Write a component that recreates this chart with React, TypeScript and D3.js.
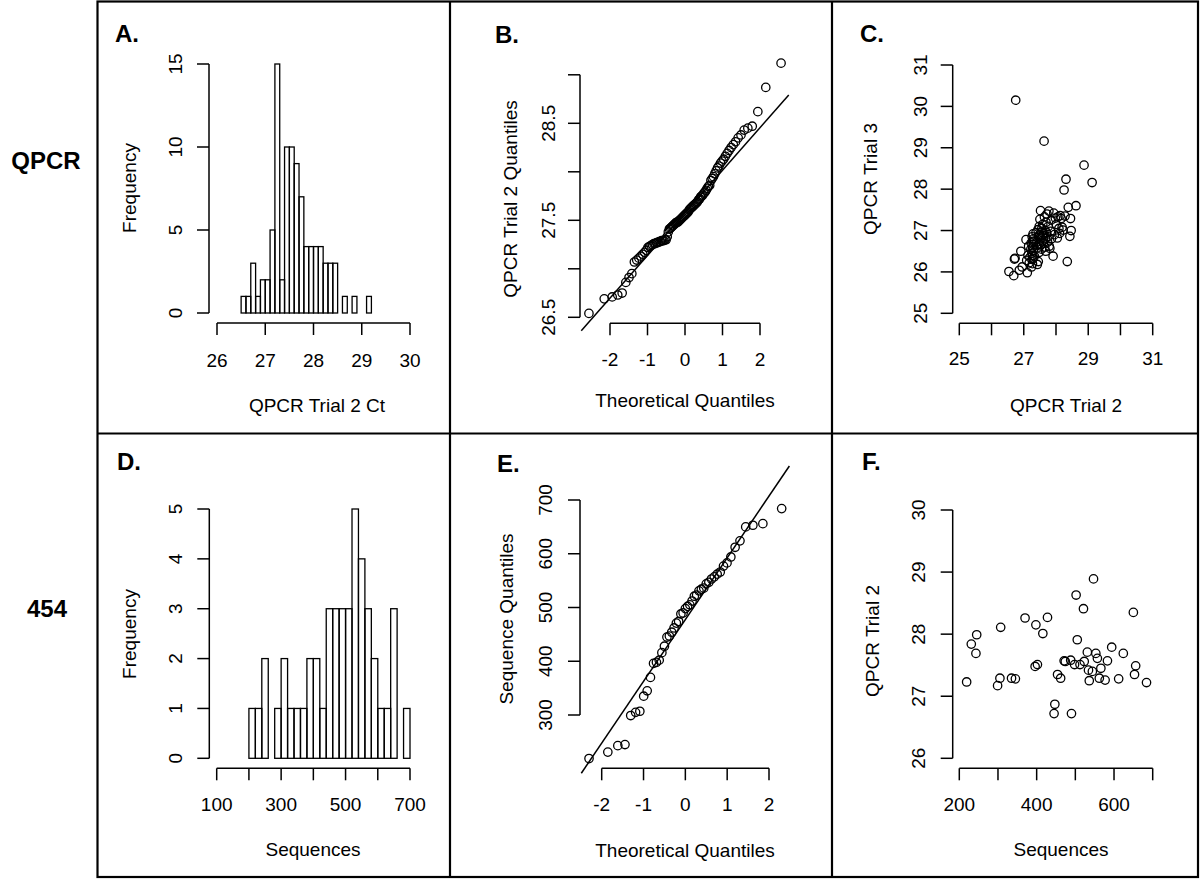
import React, { useEffect, useRef } from 'react';
import * as d3 from 'd3';

// ---- data ----

// A. histogram of QPCR trial 2 Ct, bins of 0.1 starting at 26.5
const qpcrBinStart = 26.5;
const qpcrBinWidth = 0.1;
const qpcrCounts = [1, 1, 3, 1, 2, 2, 5, 15, 2, 10, 10, 9, 7, 4, 4, 4, 4, 3, 3, 3, 0, 1, 0, 1, 0, 0, 1];

// D. histogram of 454 sequences, bins of 20 starting at 200
const seqBinStart = 200;
const seqBinWidth = 20;
const seqCounts = [1, 1, 2, 0, 1, 2, 1, 1, 1, 2, 2, 1, 3, 3, 3, 3, 5, 4, 3, 2, 1, 1, 3, 0, 1];

// B / C. QPCR trial 2 (96 wells) and paired trial 3
const qpcrTrial2 = [
  26.54, 26.69, 26.71, 26.73, 26.75, 26.86, 26.91, 26.95, 27.07, 27.09,
  27.11, 27.13, 27.15, 27.17, 27.19,
  27.22, 27.23, 27.24, 27.25, 27.26, 27.26, 27.27, 27.27, 27.28, 27.28, 27.29, 27.29, 27.29, 27.3, 27.3,
  27.33, 27.38,
  27.41, 27.42, 27.43, 27.44, 27.45, 27.46, 27.47, 27.48, 27.48, 27.49,
  27.5, 27.51, 27.52, 27.53, 27.54, 27.55, 27.56, 27.57, 27.58, 27.59,
  27.61, 27.62, 27.63, 27.64, 27.65, 27.66, 27.67, 27.68, 27.69,
  27.71, 27.72, 27.74, 27.75, 27.76, 27.78, 27.79,
  27.81, 27.83, 27.85, 27.86,
  27.91, 27.93, 27.95, 27.98,
  28.01, 28.04, 28.06, 28.09,
  28.11, 28.13, 28.16, 28.19,
  28.22, 28.25, 28.28,
  28.31, 28.35, 28.38,
  28.43, 28.45, 28.47,
  28.62, 28.87, 29.12,
];
const qpcrTrial3 = [
  26.01, 25.91, 26.31, 26.33, 30.15, 26.04, 26.5, 26.12, 26.78, 26.28,
  25.98, 26.4, 26.62, 26.22, 26.35,
  26.55, 26.7, 26.12, 26.45, 26.3, 26.85, 26.6, 26.2, 26.74, 26.4, 26.92, 26.52, 26.33, 26.66, 26.8,
  26.38, 26.95,
  26.72, 26.18, 26.58, 27.02, 26.25, 26.86, 26.47, 26.68, 27.1, 26.9,
  27.27, 26.63, 27.48, 26.8, 26.96, 26.55, 27.05, 26.75, 26.88, 27.15,
  26.7, 26.92, 29.16, 27.33, 26.6, 27.0, 26.82, 26.5, 27.2,
  26.95, 27.4, 26.72, 26.85, 27.1, 27.47, 26.62,
  26.57, 26.98, 27.25, 26.8,
  26.38, 27.42, 26.9, 27.3,
  27.15, 26.82, 27.33, 27.05,
  26.93, 27.36, 27.29, 27.08,
  27.01, 27.98, 27.35,
  28.24, 26.25, 27.56,
  26.86, 27.29, 27.0,
  27.6, 28.58, 28.16,
];

// E / F. 454 sequence counts and QPCR trial 2 for the same samples
const sequences = [
  219, 231, 243, 245, 299, 305, 307, 335, 345, 370,
  396, 398, 402, 416, 428, 445, 447, 454, 462, 471,
  474, 488, 490, 498, 502, 505, 512, 521, 523, 531,
  534, 536, 544, 547, 553, 557, 562, 566, 577, 583,
  594, 612, 624, 650, 653, 656, 684,
];
const seqTrial2 = [
  27.23, 27.84, 27.69, 27.99, 27.17, 27.29, 28.11, 27.29, 27.28, 28.26,
  27.48, 28.15, 27.51, 28.01, 28.27, 26.72, 26.87, 27.35, 27.29, 27.57,
  27.56, 27.58, 26.72, 27.51, 28.63, 27.91, 27.51, 28.41, 27.56, 27.71,
  27.42, 27.25, 27.4, 28.89, 27.69, 27.61, 27.29, 27.45, 27.26, 27.57,
  27.79, 27.28, 27.69, 28.35, 27.35, 27.49, 27.22,
];

const FONT = '"Liberation Sans", Arial, Helvetica, sans-serif';
const TICK = 12;

// inverse normal cdf (Acklam)
function qnorm(p: number) {
  const a = [-39.69683028665376, 220.9460984245205, -275.9285104469687, 138.357751867269, -30.66479806614716, 2.506628277459239];
  const b = [-54.47609879822406, 161.5858368580409, -155.6989798598866, 66.80131188771972, -13.28068155288572];
  const c = [-0.007784894002430293, -0.3223964580411365, -2.400758277161838, -2.549732539343734, 4.374664141464968, 2.938163982698783];
  const d = [0.007784695709041462, 0.3224671290700398, 2.445134137142996, 3.754408661907416];
  const pl = 0.02425;
  if (p < pl) {
    const q = Math.sqrt(-2 * Math.log(p));
    return (((((c[0] * q + c[1]) * q + c[2]) * q + c[3]) * q + c[4]) * q + c[5]) / ((((d[0] * q + d[1]) * q + d[2]) * q + d[3]) * q + 1);
  }
  if (p > 1 - pl) {
    const q = Math.sqrt(-2 * Math.log(1 - p));
    return -(((((c[0] * q + c[1]) * q + c[2]) * q + c[3]) * q + c[4]) * q + c[5]) / ((((d[0] * q + d[1]) * q + d[2]) * q + d[3]) * q + 1);
  }
  const q = p - 0.5;
  const r = q * q;
  return ((((((a[0] * r + a[1]) * r + a[2]) * r + a[3]) * r + a[4]) * r + a[5]) * q) / (((((b[0] * r + b[1]) * r + b[2]) * r + b[3]) * r + b[4]) * r + 1);
}

function ppoints(n: number) {
  const a = n <= 10 ? 3 / 8 : 0.5;
  return d3.range(1, n + 1).map((i) => (i - a) / (n + 1 - 2 * a));
}

interface Panel {
  letter: string;
  lx: number;
  ly: number;
  x: d3.ScaleLinear<number, number>;
  y: d3.ScaleLinear<number, number>;
  xTicks: number[];
  xLabels: number[];
  yTicks: number[];
  yLabels: number[];
  xAxisY: number;
  xLabelY: number;
  yAxisX: number;
  yLabelX: number;
  xTitle: string;
  xTitleX: number;
  xTitleY: number;
  yTitle: string;
  yTitleX: number;
  yTitleY: number;
}

const fmt = (v: number) => (Number.isInteger(v) ? String(v) : v.toFixed(1));

function drawFrame(svg: any, p: Panel) {
  const g = svg.append('g');
  g.append('text')
    .attr('x', p.lx)
    .attr('y', p.ly)
    .attr('font-size', 24)
    .attr('font-weight', 'bold')
    .text(p.letter);

  // bottom axis
  const x0 = p.x(p.xTicks[0]);
  const x1 = p.x(p.xTicks[p.xTicks.length - 1]);
  g.append('line').attr('x1', x0).attr('x2', x1).attr('y1', p.xAxisY).attr('y2', p.xAxisY);
  g.selectAll('line.xt')
    .data(p.xTicks)
    .enter()
    .append('line')
    .attr('class', 'xt')
    .attr('x1', (d: number) => p.x(d))
    .attr('x2', (d: number) => p.x(d))
    .attr('y1', p.xAxisY)
    .attr('y2', p.xAxisY + TICK);
  g.selectAll('text.xl')
    .data(p.xLabels)
    .enter()
    .append('text')
    .attr('class', 'xl')
    .attr('x', (d: number) => p.x(d))
    .attr('y', p.xLabelY)
    .attr('text-anchor', 'middle')
    .text(fmt);

  // left axis
  const y0 = p.y(p.yTicks[0]);
  const y1 = p.y(p.yTicks[p.yTicks.length - 1]);
  g.append('line').attr('x1', p.yAxisX).attr('x2', p.yAxisX).attr('y1', y0).attr('y2', y1);
  g.selectAll('line.yt')
    .data(p.yTicks)
    .enter()
    .append('line')
    .attr('class', 'yt')
    .attr('x1', p.yAxisX)
    .attr('x2', p.yAxisX - TICK)
    .attr('y1', (d: number) => p.y(d))
    .attr('y2', (d: number) => p.y(d));
  g.selectAll('text.yl')
    .data(p.yLabels)
    .enter()
    .append('text')
    .attr('class', 'yl')
    .attr('transform', (d: number) => `translate(${p.yLabelX},${p.y(d)}) rotate(-90)`)
    .attr('text-anchor', 'middle')
    .text(fmt);

  g.append('text')
    .attr('x', p.xTitleX)
    .attr('y', p.xTitleY)
    .attr('text-anchor', 'middle')
    .text(p.xTitle);
  g.append('text')
    .attr('transform', `translate(${p.yTitleX},${p.yTitleY}) rotate(-90)`)
    .attr('text-anchor', 'middle')
    .text(p.yTitle);

  g.selectAll('line').attr('stroke', '#000').attr('stroke-width', 1.5);
  return g;
}

function drawHist(svg: any, p: Panel, start: number, width: number, counts: number[]) {
  svg
    .append('g')
    .selectAll('rect')
    .data(counts)
    .enter()
    .append('rect')
    .attr('x', (_: number, i: number) => p.x(start + i * width))
    .attr('width', (_: number, i: number) => p.x(start + (i + 1) * width) - p.x(start + i * width))
    .attr('y', (d: number) => p.y(d))
    .attr('height', (d: number) => p.y(0) - p.y(d))
    .attr('fill', 'none')
    .attr('stroke', '#000')
    .attr('stroke-width', 1.3);
}

function drawPoints(svg: any, p: Panel, xs: number[], ys: number[]) {
  svg
    .append('g')
    .selectAll('circle')
    .data(xs)
    .enter()
    .append('circle')
    .attr('cx', (d: number) => p.x(d))
    .attr('cy', (_: number, i: number) => p.y(ys[i]))
    .attr('r', 4.2)
    .attr('fill', 'none')
    .attr('stroke', '#000')
    .attr('stroke-width', 1.3);
}

function drawQQ(svg: any, p: Panel, values: number[]) {
  const sorted = values.slice().sort(d3.ascending);
  const theo = ppoints(sorted.length).map(qnorm);
  drawPoints(svg, p, theo, sorted);
  // qqline through the quartiles, clipped to the plot region in x
  const q1 = d3.quantileSorted(sorted, 0.25) as number;
  const q3 = d3.quantileSorted(sorted, 0.75) as number;
  const z1 = qnorm(0.25);
  const z3 = qnorm(0.75);
  const slope = (q3 - q1) / (z3 - z1);
  const int = q1 - slope * z1;
  const [lo, hi] = d3.extent(theo) as [number, number];
  const pad = (hi - lo) * 0.04;
  const xa = lo - pad;
  const xb = hi + pad;
  svg
    .append('line')
    .attr('x1', p.x(xa))
    .attr('y1', p.y(int + slope * xa))
    .attr('x2', p.x(xb))
    .attr('y2', p.y(int + slope * xb))
    .attr('stroke', '#000')
    .attr('stroke-width', 1.5);
}

const App = () => {
  const svgRef = useRef(null);

  useEffect(() => {
    if (!svgRef.current) return;
    const svg = d3.select(svgRef.current);
    svg.selectAll('*').remove();
    svg.attr('font-family', FONT).attr('font-size', 19).attr('fill', '#000');

    // outer frame and grid
    const frame = svg.append('g').attr('stroke', '#000').attr('stroke-width', 2.2).attr('fill', 'none');
    frame.append('rect').attr('x', 97.5).attr('y', 1.5).attr('width', 1100.5).attr('height', 875.5);
    frame.append('line').attr('x1', 97.5).attr('x2', 1198).attr('y1', 433.5).attr('y2', 433.5);
    frame.append('line').attr('x1', 450).attr('x2', 450).attr('y1', 1.5).attr('y2', 877);
    frame.append('line').attr('x1', 832).attr('x2', 832).attr('y1', 1.5).attr('y2', 877);

    svg.append('text').attr('x', 46).attr('y', 169).attr('text-anchor', 'middle')
      .attr('font-size', 24).attr('font-weight', 'bold').text('QPCR');
    svg.append('text').attr('x', 47).attr('y', 617).attr('text-anchor', 'middle')
      .attr('font-size', 24).attr('font-weight', 'bold').text('454');

    const pA: Panel = {
      letter: 'A.', lx: 115, ly: 42,
      x: d3.scaleLinear().domain([26, 30]).range([217, 410]),
      y: d3.scaleLinear().domain([0, 15]).range([313, 64]),
      xTicks: [26, 27, 28, 29, 30], xLabels: [26, 27, 28, 29, 30],
      yTicks: [0, 5, 10, 15], yLabels: [0, 5, 10, 15],
      xAxisY: 323, xLabelY: 366.5, yAxisX: 209, yLabelX: 182,
      xTitle: 'QPCR Trial 2 Ct', xTitleX: 317, xTitleY: 411.5,
      yTitle: 'Frequency', yTitleX: 135.5, yTitleY: 188,
    };
    const pB: Panel = {
      letter: 'B.', lx: 495, ly: 43,
      x: d3.scaleLinear().domain([-2, 2]).range([610, 760]),
      y: d3.scaleLinear().domain([26.5, 29]).range([317.3, 74.8]),
      xTicks: [-2, -1, 0, 1, 2], xLabels: [-2, -1, 0, 1, 2],
      yTicks: [26.5, 27, 27.5, 28, 28.5, 29], yLabels: [26.5, 27.5, 28.5],
      xAxisY: 323.3, xLabelY: 366, yAxisX: 580, yLabelX: 555,
      xTitle: 'Theoretical Quantiles', xTitleX: 685, xTitleY: 407,
      yTitle: 'QPCR Trial 2 Quantiles', yTitleX: 517, yTitleY: 199,
    };
    const pC: Panel = {
      letter: 'C.', lx: 860, ly: 42,
      x: d3.scaleLinear().domain([25, 31]).range([959.3, 1152.7]),
      y: d3.scaleLinear().domain([25, 31]).range([313.3, 65]),
      xTicks: [25, 26, 27, 28, 29, 30, 31], xLabels: [25, 27, 29, 31],
      yTicks: [25, 26, 27, 28, 29, 30, 31], yLabels: [25, 26, 27, 28, 29, 30, 31],
      xAxisY: 323.3, xLabelY: 365, yAxisX: 952.7, yLabelX: 926.7,
      xTitle: 'QPCR Trial 2', xTitleX: 1066, xTitleY: 412,
      yTitle: 'QPCR Trial 3', yTitleX: 877, yTitleY: 179,
    };
    const pD: Panel = {
      letter: 'D.', lx: 117, ly: 470,
      x: d3.scaleLinear().domain([100, 700]).range([216.7, 410]),
      y: d3.scaleLinear().domain([0, 5]).range([758.3, 509]),
      xTicks: [100, 200, 300, 400, 500, 600, 700], xLabels: [100, 300, 500, 700],
      yTicks: [0, 1, 2, 3, 4, 5], yLabels: [0, 1, 2, 3, 4, 5],
      xAxisY: 768.3, xLabelY: 811, yAxisX: 209.3, yLabelX: 181.7,
      xTitle: 'Sequences', xTitleX: 313, xTitleY: 856,
      yTitle: 'Frequency', yTitleX: 135.5, yTitleY: 634,
    };
    const pE: Panel = {
      letter: 'E.', lx: 497, ly: 472,
      x: d3.scaleLinear().domain([-2, 2]).range([601.7, 769]),
      y: d3.scaleLinear().domain([300, 700]).range([715, 500]),
      xTicks: [-2, -1, 0, 1, 2], xLabels: [-2, -1, 0, 1, 2],
      yTicks: [300, 400, 500, 600, 700], yLabels: [300, 400, 500, 600, 700],
      xAxisY: 768.3, xLabelY: 811, yAxisX: 580, yLabelX: 551.7,
      xTitle: 'Theoretical Quantiles', xTitleX: 685, xTitleY: 857,
      yTitle: 'Sequence Quantiles', yTitleX: 513, yTitleY: 619,
    };
    const pF: Panel = {
      letter: 'F.', lx: 862, ly: 470,
      x: d3.scaleLinear().domain([200, 700]).range([959.3, 1152.7]),
      y: d3.scaleLinear().domain([26, 30]).range([758.3, 510]),
      xTicks: [200, 300, 400, 500, 600, 700], xLabels: [200, 400, 600],
      yTicks: [26, 27, 28, 29, 30], yLabels: [26, 27, 28, 29, 30],
      xAxisY: 768.3, xLabelY: 811, yAxisX: 952.7, yLabelX: 925,
      xTitle: 'Sequences', xTitleX: 1061, xTitleY: 856,
      yTitle: 'QPCR Trial 2', yTitleX: 878.7, yTitleY: 641,
    };

    [pA, pB, pC, pD, pE, pF].forEach((p) => drawFrame(svg, p));

    drawHist(svg, pA, qpcrBinStart, qpcrBinWidth, qpcrCounts);
    drawQQ(svg, pB, qpcrTrial2);
    drawPoints(svg, pC, qpcrTrial2, qpcrTrial3);
    drawHist(svg, pD, seqBinStart, seqBinWidth, seqCounts);
    drawQQ(svg, pE, sequences);
    drawPoints(svg, pF, sequences, seqTrial2);
  }, []);

  return (
    <svg
      ref={svgRef}
      width={1200}
      height={879}
      style={{ position: 'absolute', left: 0, top: 0, background: '#fff' }}
    />
  );
};

export default App;
